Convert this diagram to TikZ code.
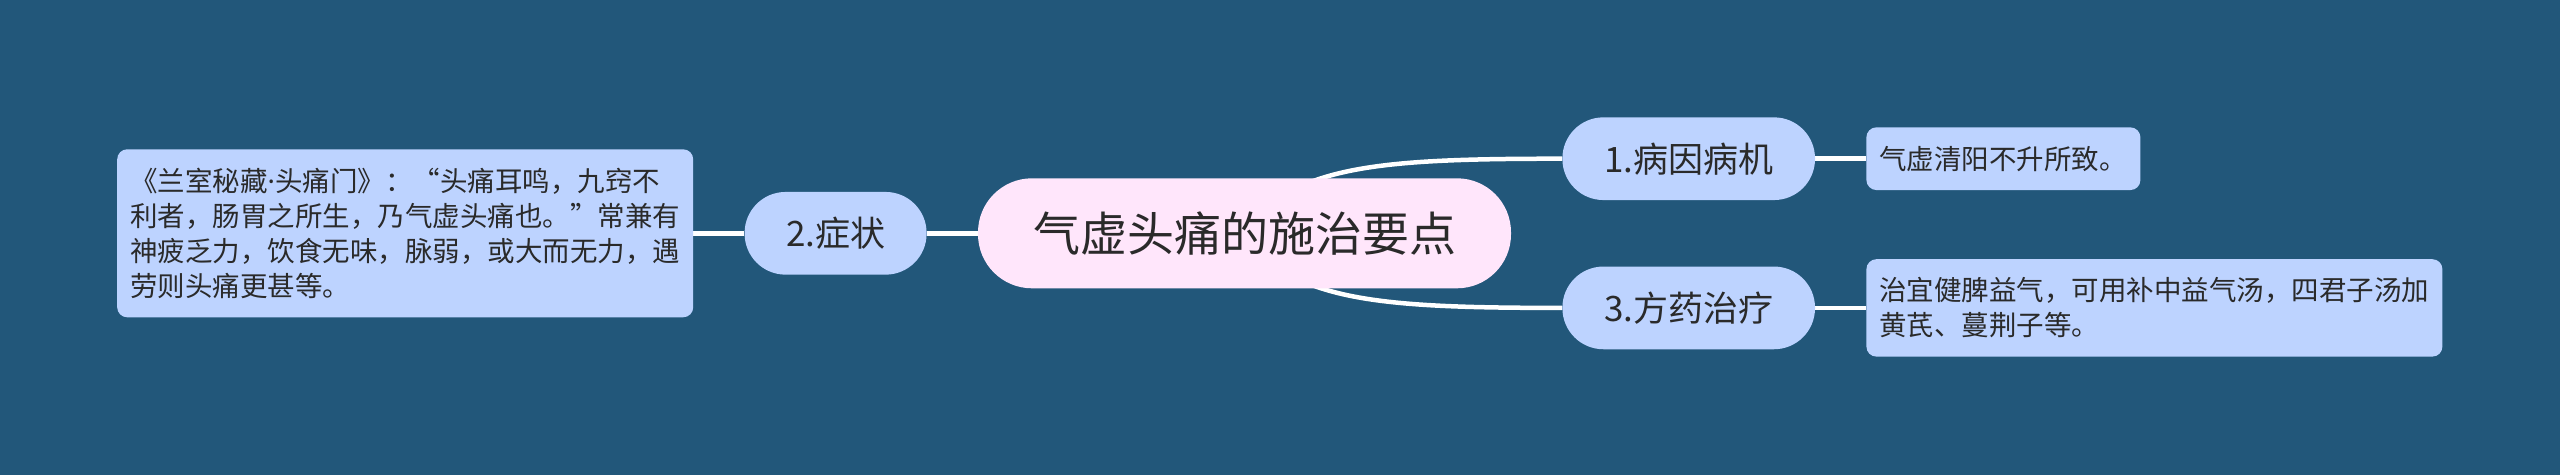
\documentclass[tikz,border=0pt]{standalone}
\usepackage{fontspec}
\newfontfamily\cjk{Noto Sans CJK SC}
\newfontfamily\cjkfull[RawFeature=+fwid]{Noto Sans CJK SC}
\newfontfamily\latinfont{Noto Sans}
\usetikzlibrary{positioning,backgrounds}

\definecolor{mapbg}{HTML}{22577A}
\definecolor{topicblue}{HTML}{BDD3FF}
\definecolor{rootpink}{HTML}{FFE6FB}
\definecolor{maptext}{HTML}{2A2A2A}
\newcommand{\fwq}[1]{{\cjkfull #1}}
\newcommand{\narrowdot}{{\latinfont ·}}

\begin{document}
\begin{tikzpicture}[x=1pt, y=1pt, font=\cjk, text=maptext]

    % --- STYLES ---
    \tikzset{
        rootnode/.style={fill=rootpink, rounded corners=54pt, minimum width=533pt, minimum height=110pt, inner sep=0pt, font=\cjk\fontsize{47}{56}\selectfont},
        topicnode/.style={fill=topicblue, rounded corners=41pt, minimum height=82.7pt, inner sep=0pt, font=\cjk\fontsize{35}{42}\selectfont},
        detailnode/.style={fill=topicblue, rounded corners=10pt, align=left, inner xsep=13pt, inner ysep=0pt, font=\cjk\fontsize{27.5}{35}\selectfont},
        branch/.style={draw=white, line width=4.5pt}
    }

    \useasboundingbox (0,0) rectangle (2560,475);

    % --- ROOT ---
    \node[rootnode] (root) at (1244.5,241.7) {气虚头痛的施治要点};

    % --- LEFT BRANCH ---
    \node[topicnode, minimum width=182pt, left=51pt of root] (symptom) {2.症状};
    \node[detailnode, text width=550pt, minimum height=168pt, left=51pt of symptom] (symptomtext)
        {《兰室秘藏\narrowdot 头痛门》：\fwq{“}头痛耳鸣，九窍不\\利者，肠胃之所生，乃气虚头痛也。\fwq{”}常兼有\\神疲乏力，饮食无味，脉弱，或大而无力，遇\\劳则头痛更甚等。};

    % --- RIGHT BRANCHES ---
    \node[topicnode, minimum width=252.6pt, right=51pt of root, yshift=74.6pt] (cause) {1.病因病机};
    \node[detailnode, text width=248pt, minimum height=62.7pt, right=51pt of cause] (causetext) {气虚清阳不升所致。};

    \node[topicnode, minimum width=252.6pt, right=51pt of root, yshift=-74.6pt] (therapy) {3.方药治疗};
    \node[detailnode, text width=550pt, minimum height=97.4pt, right=51pt of therapy] (therapytext)
        {治宜健脾益气，可用补中益气汤，四君子汤加\\黄芪、蔓荆子等。};

    % --- CONNECTORS (behind the nodes) ---
    \begin{scope}[on background layer]
        \fill[mapbg] (0,0) rectangle (2560,475);
        \draw[branch] (root) -- (symptom);
        \draw[branch] (symptom) -- (symptomtext);
        \draw[branch] (root.center) .. controls +(45.5,68.3) and +(-182,0) .. (cause.west);
        \draw[branch] (root.center) .. controls +(45.5,-68.3) and +(-182,0) .. (therapy.west);
        \draw[branch] (cause) -- (causetext);
        \draw[branch] (therapy) -- (therapytext);
    \end{scope}

\end{tikzpicture}
\end{document}
